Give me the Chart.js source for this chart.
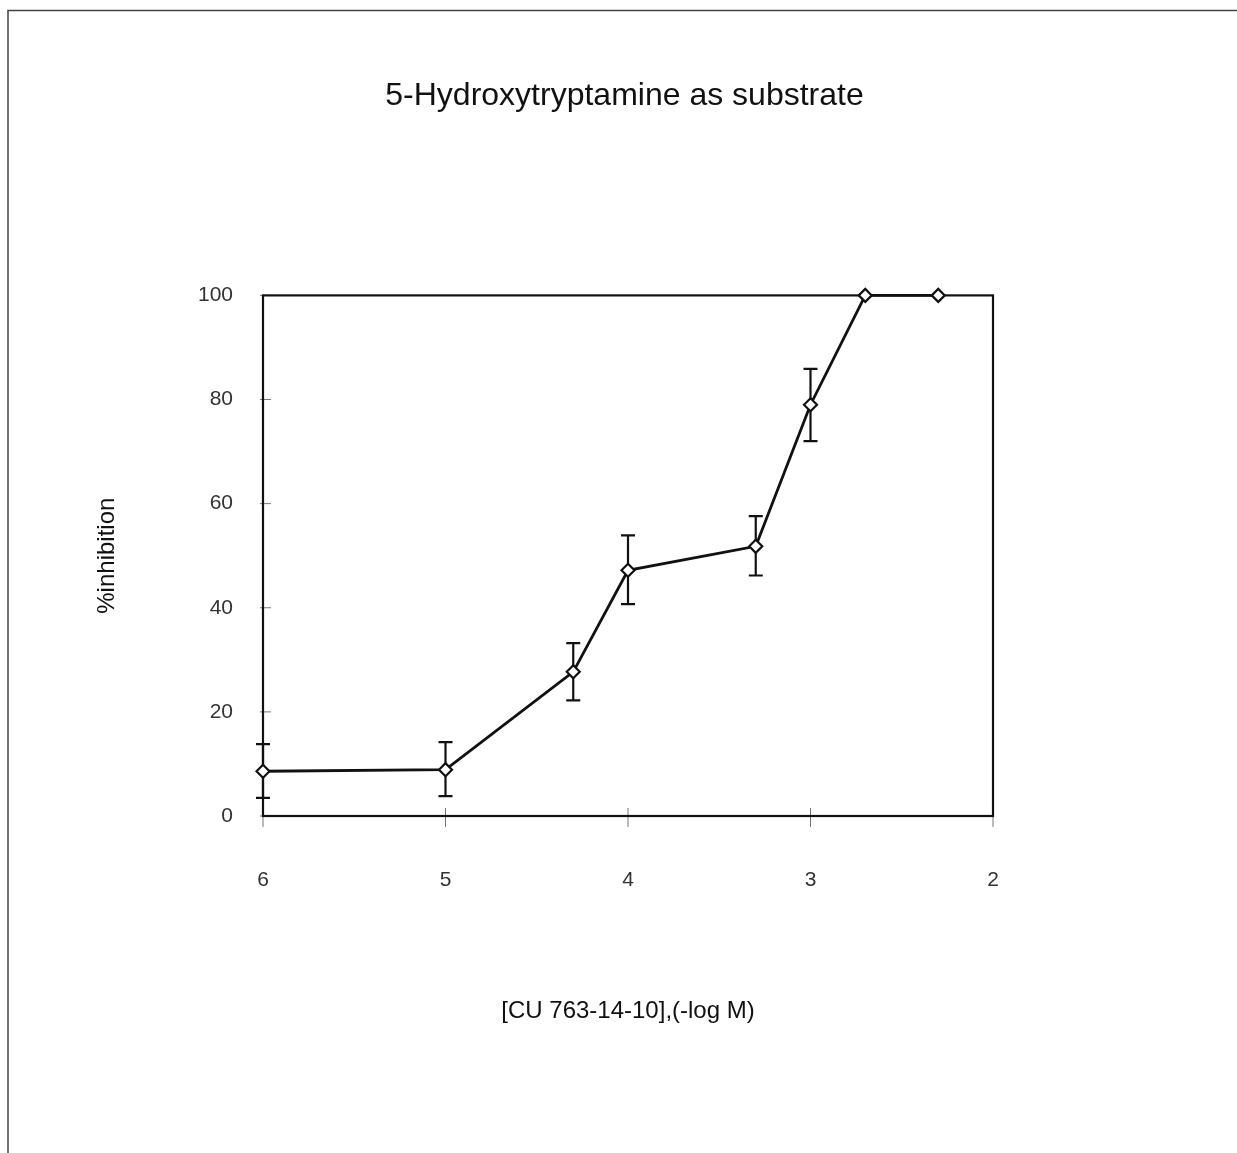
<!DOCTYPE html>
<html>
<head>
<meta charset="utf-8">
<script src="https://cdn.jsdelivr.net/npm/chart.js@4.4.1/dist/chart.umd.min.js"></script>
<style>
html,body{margin:0;padding:0;background:#fff;}
#wrap{position:relative;width:1237px;height:1153px;}
</style>
</head>
<body>
<div id="wrap"><canvas id="c" width="1237" height="1153"></canvas></div>
<script>
// Data
const concentrations = [6.0, 5.0, 4.3, 4.0, 3.3, 3.0, 2.7, 2.3];   // -log M
const inhibition     = [8.6, 8.9, 27.7, 47.2, 51.8, 79.0, 100, 100];
const errorLow       = [3.5, 3.8, 22.2, 40.7, 46.2, 72.0, null, null];
const errorHigh      = [13.8, 14.2, 33.2, 53.9, 57.6, 85.9, null, null];
const xTickValues    = [6, 5, 4, 3, 2];
const yTickValues    = [0, 20, 40, 60, 80, 100];
const chartTitle     = '5-Hydroxytryptamine as substrate';
const xAxisTitle     = '[CU 763-14-10],(-log M)';
const yAxisTitle     = '%inhibition';

const FONT = '"Liberation Sans", Arial, Helvetica, sans-serif';

const points = concentrations.map((x, i) => ({x: x, y: inhibition[i]}));

const framePlugin = {
  id: 'pageFrame',
  beforeDraw(chart) {
    const ctx = chart.ctx;
    ctx.save();
    ctx.strokeStyle = '#444';
    ctx.lineWidth = 1.5;
    ctx.beginPath();
    ctx.moveTo(8, 1153);
    ctx.lineTo(8, 10.5);
    ctx.lineTo(1237, 10.5);
    ctx.stroke();
    ctx.restore();
  }
};

const boxPlugin = {
  id: 'plotBox',
  beforeDatasetsDraw(chart) {
    const ctx = chart.ctx;
    const a = chart.chartArea;
    const xs = chart.scales.x, ys = chart.scales.y;
    ctx.save();
    // tick marks
    ctx.strokeStyle = '#777';
    ctx.lineWidth = 1;
    xTickValues.forEach(v => {
      const px = xs.getPixelForValue(v);
      ctx.beginPath();
      ctx.moveTo(px, a.bottom - 8);
      ctx.lineTo(px, a.bottom + 11);
      ctx.stroke();
    });
    yTickValues.forEach(v => {
      const py = ys.getPixelForValue(v);
      ctx.beginPath();
      ctx.moveTo(a.left - 3, py);
      ctx.lineTo(a.left + 8, py);
      ctx.stroke();
    });
    // box
    ctx.strokeStyle = '#111';
    ctx.lineWidth = 2.2;
    ctx.strokeRect(a.left, a.top, a.right - a.left, a.bottom - a.top);
    // error bars
    ctx.strokeStyle = '#111';
    ctx.lineWidth = 2.2;
    concentrations.forEach((c, i) => {
      if (errorLow[i] == null || errorHigh[i] == null) return;
      const px = xs.getPixelForValue(c);
      const pLo = ys.getPixelForValue(errorLow[i]);
      const pHi = ys.getPixelForValue(errorHigh[i]);
      ctx.beginPath();
      ctx.moveTo(px, pLo); ctx.lineTo(px, pHi);
      ctx.moveTo(px - 7, pLo); ctx.lineTo(px + 7, pLo);
      ctx.moveTo(px - 7, pHi); ctx.lineTo(px + 7, pHi);
      ctx.stroke();
    });
    ctx.restore();
  }
};

new Chart(document.getElementById('c'), {
  type: 'line',
  data: {
    datasets: [{
      data: points,
      borderColor: '#111',
      borderWidth: 2.8,
      tension: 0,
      pointStyle: 'rectRot',
      pointRadius: 6.5,
      pointBorderWidth: 2.2,
      pointBackgroundColor: '#fff',
      pointBorderColor: '#111',
      clip: false
    }]
  },
  options: {
    responsive: false,
    animation: false,
    devicePixelRatio: 1,
    layout: {padding: {left: 12, right: 0, top: 0, bottom: 0}},
    plugins: {
      legend: {display: false},
      tooltip: {enabled: false},
      title: {
        display: true,
        text: chartTitle,
        color: '#111',
        font: {family: FONT, size: 32, weight: 'normal'},
        padding: {top: 77, bottom: 180}
      }
    },
    scales: {
      x: {
        type: 'linear',
        min: 2, max: 6,
        reverse: true,
        afterBuildTicks: s => { s.ticks = xTickValues.map(v => ({value: v})); },
        afterFit: s => { s.height = 337; },
        grid: {display: false, drawTicks: false},
        border: {display: false},
        ticks: {color: '#333', padding: 52, font: {family: FONT, size: 21}},
        title: {
          display: true, text: xAxisTitle, color: '#111',
          font: {family: FONT, size: 24}, padding: {top: 0, bottom: 127}
        }
      },
      y: {
        type: 'linear',
        position: 'left',
        min: 0, max: 100,
        afterBuildTicks: s => { s.ticks = yTickValues.map(v => ({value: v})); },
        afterFit: s => { s.width = 251; },
        grid: {display: false, drawTicks: false},
        border: {display: false},
        ticks: {color: '#333', padding: 30, font: {family: FONT, size: 21}},
        title: {
          display: true, text: yAxisTitle, color: '#111',
          font: {family: FONT, size: 24}, padding: {top: 81, bottom: 0}
        }
      },
      yRightSpace: {
        type: 'linear',
        position: 'right',
        min: 0, max: 100,
        afterFit: s => { s.width = 244; },
        grid: {display: false, drawTicks: false},
        border: {display: false},
        ticks: {display: false}
      }
    }
  },
  plugins: [framePlugin, boxPlugin]
});
</script>
</body>
</html>
